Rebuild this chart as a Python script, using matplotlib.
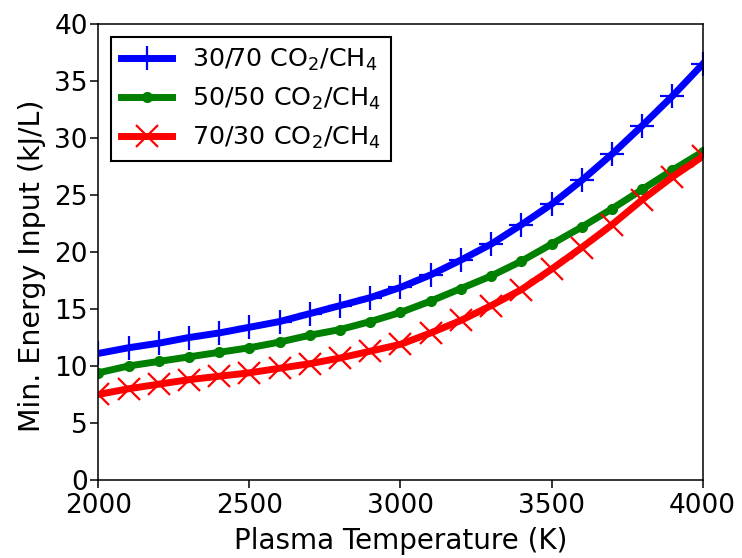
import numpy as np
import matplotlib
matplotlib.use('Agg')
import matplotlib.pyplot as plt

# Plasma temperature grid (K)
temperature = np.arange(2000, 4001, 100)

# Minimum energy input (kJ/L) for each feed ratio
energy_30_70 = [11.1, 11.6, 12.0, 12.5, 12.9, 13.4, 13.9, 14.6, 15.3, 16.0, 16.9,
                18.0, 19.3, 20.7, 22.4, 24.2, 26.3, 28.6, 31.1, 33.7, 36.5]
energy_50_50 = [9.4, 10.0, 10.4, 10.8, 11.2, 11.6, 12.1, 12.7, 13.2, 13.9, 14.7,
                15.7, 16.8, 17.9, 19.2, 20.7, 22.2, 23.8, 25.5, 27.2, 28.8]
energy_70_30 = [7.5, 8.0, 8.4, 8.8, 9.1, 9.4, 9.8, 10.2, 10.7, 11.3, 11.9,
                12.9, 14.0, 15.3, 16.7, 18.5, 20.4, 22.4, 24.6, 26.6, 28.4]

labels = ['30/70 CO$_2$/CH$_4$', '50/50 CO$_2$/CH$_4$', '70/30 CO$_2$/CH$_4$']

fig, ax = plt.subplots(figsize=(7.42, 5.58), dpi=100)
fig.subplots_adjust(left=0.1325, right=0.947, top=0.9565, bottom=0.14)

ax.plot(temperature, energy_30_70, color='blue', lw=5, marker='+',
        markersize=17, markeredgewidth=1.6, label=labels[0])
ax.plot(temperature, energy_50_50, color='green', lw=5, marker='o',
        markersize=7, label=labels[1])
ax.plot(temperature, energy_70_30, color='red', lw=5, marker='x',
        markersize=16, markeredgewidth=1.6, label=labels[2])

ax.set_xlim(2000, 4000)
ax.set_ylim(0, 40)
ax.set_xticks([2000, 2500, 3000, 3500, 4000])
ax.set_yticks(range(0, 41, 5))
ax.tick_params(labelsize=19, length=5.5, width=1.1)
ax.tick_params(axis='x', pad=4)
ax.tick_params(axis='y', pad=2)
for spine in ax.spines.values():
    spine.set_linewidth(1.1)
ax.set_xlabel('Plasma Temperature (K)', fontsize=20, labelpad=6)
ax.set_ylabel('Min. Energy Input (kJ/L)', fontsize=20.5)
ax.yaxis.set_label_coords(-0.087, 0.47)

leg = ax.legend(loc='upper left', fontsize=18.3, fancybox=False,
                edgecolor='black', framealpha=1)
leg.get_frame().set_linewidth(1.5)

plt.savefig('out.png', dpi=100)
